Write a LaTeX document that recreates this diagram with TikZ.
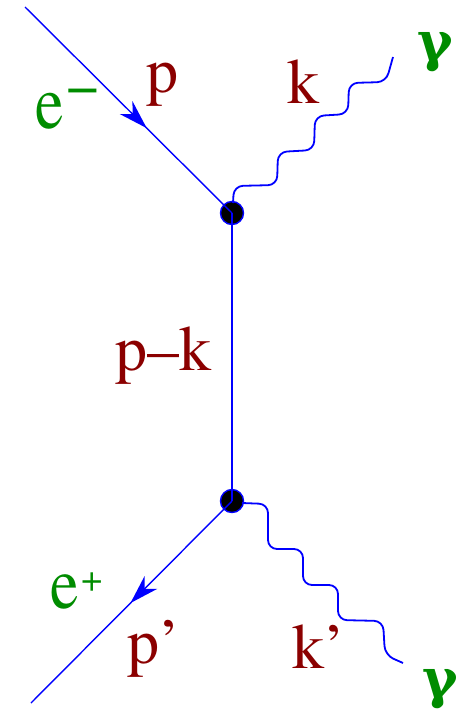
\documentclass[tikz,border=0pt]{standalone}
\usepackage{fontspec}
\newfontfamily\timesf{texgyretermes}[Extension=.otf,UprightFont=*-regular,BoldFont=*-bold]
\newfontfamily\greekf{DejaVu Serif}
\usetikzlibrary{arrows.meta,decorations.markings}
\definecolor{dred}{RGB}{139,0,0}
\definecolor{dgreen}{RGB}{0,140,0}
\tikzset{
  vertex/.style={circle,fill=black,draw=blue,line width=1.4pt,minimum size=23pt,inner sep=0pt},
  fermion/.style={draw=blue,line width=1.4pt},
  photon/.style={draw=blue,line width=1.8pt,rounded corners=9pt},
  midarrow/.style={postaction={decorate},decoration={markings,
     mark=at position #1 with {\arrow{Stealth[length=29pt,width=18pt,inset=9pt]}}}},
  redlbl/.style={text=dred,font=\timesf\fontsize{64}{64}\selectfont,inner sep=0pt,anchor=base west},
  greenlbl/.style={text=dgreen,font=\timesf\fontsize{64}{64}\selectfont,inner sep=0pt,anchor=base west},
  gammalbl/.style={text=dgreen,font=\greekf\fontsize{54}{54}\selectfont\bfseries,inner sep=0pt,anchor=base west}
}
\begin{document}
\begin{tikzpicture}[x=1pt,y=-1pt]
\useasboundingbox (0,0) rectangle (461,712);
% vertices
\node[vertex] (v1) at (232,213) {};
\node[vertex] (v2) at (232,501) {};
% free ends
\coordinate (a1) at (25,7);
\coordinate (a2) at (31,703);
\coordinate (g1) at (393,57);
\coordinate (g2) at (403,663);
% fermion lines
\draw[fermion,midarrow=0.588] (a1) -- (v1.center);
\draw[fermion] (v1.center) -- (v2.center);
\draw[fermion,midarrow=0.505] (v2.center) -- (a2);
% photons
\draw[photon] (v1.center) ++(1,-10) -- (234,186) -- (277,185) -- (278,152) -- (314,150)
   -- (315,116) -- (348,114) -- (349,83) -- (386,82) -- (g1);
\draw[photon] (v2.center) ++(10,2) -- (268,504) -- (268,549) -- (303,549) -- (303,585)
   -- (338,585) -- (338,620) -- (383,621) -- (385,655) -- (g2);
% labels
\node[greenlbl] (le1) at (35,128) {\scalebox{1}[1.2]{e}\hspace{3pt}\raisebox{23pt}{\fontsize{58}{58}\selectfont −}};
\node[redlbl] (lp) at (146,92) {p};
\node[redlbl] (lk) at (287,103) {k};
\node[gammalbl] (lg1) at (417,60) {γ};
\node[redlbl] (lpk) at (115,370) {p–k};
\node[greenlbl] (le2) at (50,608) {\scalebox{1}[1.15]{e}\hspace{2.5pt}\raisebox{17pt}{\fontsize{38}{38}\selectfont +}};
\node[redlbl] (lpp) at (127,663) {p’};
\node[redlbl] (lkp) at (292,668) {k’};
\node[gammalbl] (lg2) at (422,697) {γ};
\end{tikzpicture}
\end{document}
